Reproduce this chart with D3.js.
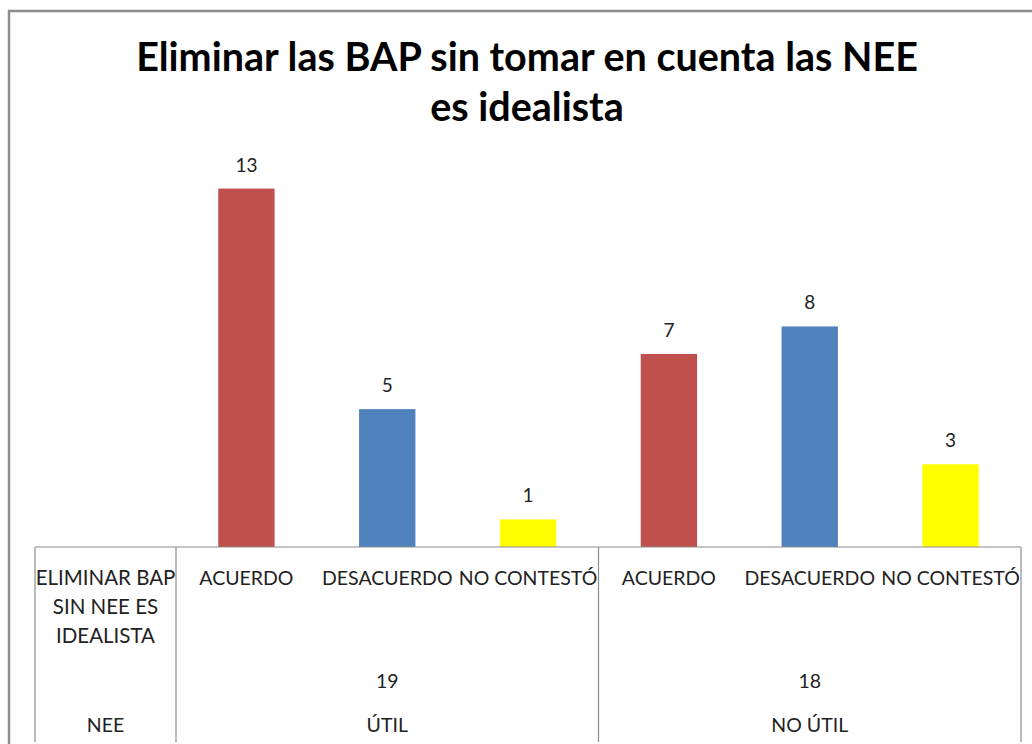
<!DOCTYPE html>
<meta charset="utf-8">
<head>
    <meta charset="utf-8">
    <title>Eliminar las BAP</title>
    <script src="https://d3js.org/d3.v7.min.js"></script>
    <style>
        body { margin: 0; background: #fff; font-family: 'Lato', sans-serif; }
    </style>
</head>
<body>
<div id="my_dataviz"></div>
<script>
    // Data
    var groups = ["ÚTIL", "NO ÚTIL"];
    var groupTotals = [19, 18];
    var answers = ["ACUERDO", "DESACUERDO", "NO CONTESTÓ"];
    var values = [13, 5, 1, 7, 8, 3];
    var answerColors = ["#c0504d", "#4f81bd", "#ffff00"];
    var rowTitle = ["ELIMINAR BAP", "SIN NEE ES", "IDEALISTA"];
    var groupTitle = "NEE";
    var titleLines = ["Eliminar las BAP sin tomar en cuenta las NEE", "es idealista"];

    var W = 1032, H = 744;
    var svg = d3.select("#my_dataviz").append("svg")
        .attr("width", W).attr("height", H);

    // outer chart border (only top and left visible)
    svg.append("path")
        .attr("d", "M9,744 L9,11 L1032,11")
        .attr("fill", "none").attr("stroke", "#8c8c8c").attr("stroke-width", 2.5);

    // Title
    svg.selectAll(".title").data(titleLines).enter().append("text")
        .attr("x", 527).attr("y", function(d, i) { return 71 + i * 50; })
        .attr("text-anchor", "middle")
        .style("font-size", "39.5px").style("font-weight", "bold")
        .style("fill", "#000")
        .text(function(d) { return d; });

    var tableLeft = 35, plotLeft = 176, plotRight = 1021, baseY = 547;

    var cats = d3.range(values.length);
    var x = d3.scaleBand().domain(cats).range([plotLeft, plotRight]).paddingInner(0.6).paddingOuter(0.3);
    var y = d3.scaleLinear().domain([0, 14]).range([baseY, 161]);

    // Bars
    svg.selectAll(".bar").data(values).enter().append("rect")
        .attr("x", function(d, i) { return x(i); })
        .attr("y", function(d) { return y(d); })
        .attr("width", x.bandwidth())
        .attr("height", function(d) { return baseY - y(d); })
        .attr("fill", function(d, i) { return answerColors[i % 3]; });

    // Value labels
    svg.selectAll(".val").data(values).enter().append("text")
        .attr("x", function(d, i) { return x(i) + x.bandwidth() / 2; })
        .attr("y", function(d) { return y(d) - 17; })
        .attr("text-anchor", "middle")
        .style("font-size", "19px").style("fill", "#222")
        .text(function(d) { return d; });

    // Table lines
    var lineColor = "#8c8c8c";
    svg.append("line").attr("x1", tableLeft).attr("x2", plotRight)
        .attr("y1", baseY).attr("y2", baseY)
        .attr("stroke", lineColor).attr("stroke-width", 1.2);
    var groupW = (plotRight - plotLeft) / groups.length;
    var vx = [tableLeft, plotLeft, plotLeft + groupW, plotRight];
    svg.selectAll(".vl").data(vx).enter().append("line")
        .attr("x1", function(d) { return d; }).attr("x2", function(d) { return d; })
        .attr("y1", baseY).attr("y2", 742)
        .attr("stroke", lineColor).attr("stroke-width", 1.2);

    var labelStyle = function(sel) {
        sel.style("font-size", "19.5px").style("fill", "#222").attr("text-anchor", "middle");
    };

    // Category labels
    svg.selectAll(".cat").data(values).enter().append("text")
        .attr("x", function(d, i) { return x(i) + x.bandwidth() / 2; })
        .attr("y", 585)
        .call(labelStyle)
        .text(function(d, i) { return answers[i % 3]; });

    // Row title
    svg.selectAll(".rt").data(rowTitle).enter().append("text")
        .attr("x", (tableLeft + plotLeft) / 2)
        .attr("y", function(d, i) { return 585 + i * 29; })
        .call(labelStyle)
        .style("font-size", "20.5px")
        .text(function(d) { return d; });

    svg.append("text").attr("x", (tableLeft + plotLeft) / 2).attr("y", 732)
        .call(labelStyle).text(groupTitle);

    // Group totals and names
    svg.selectAll(".gt").data(groupTotals).enter().append("text")
        .attr("x", function(d, i) { return plotLeft + groupW * (i + 0.5); })
        .attr("y", 688)
        .call(labelStyle)
        .text(function(d) { return d; });
    svg.selectAll(".gn").data(groups).enter().append("text")
        .attr("x", function(d, i) { return plotLeft + groupW * (i + 0.5); })
        .attr("y", 732)
        .call(labelStyle)
        .text(function(d) { return d; });
</script>
</body>
